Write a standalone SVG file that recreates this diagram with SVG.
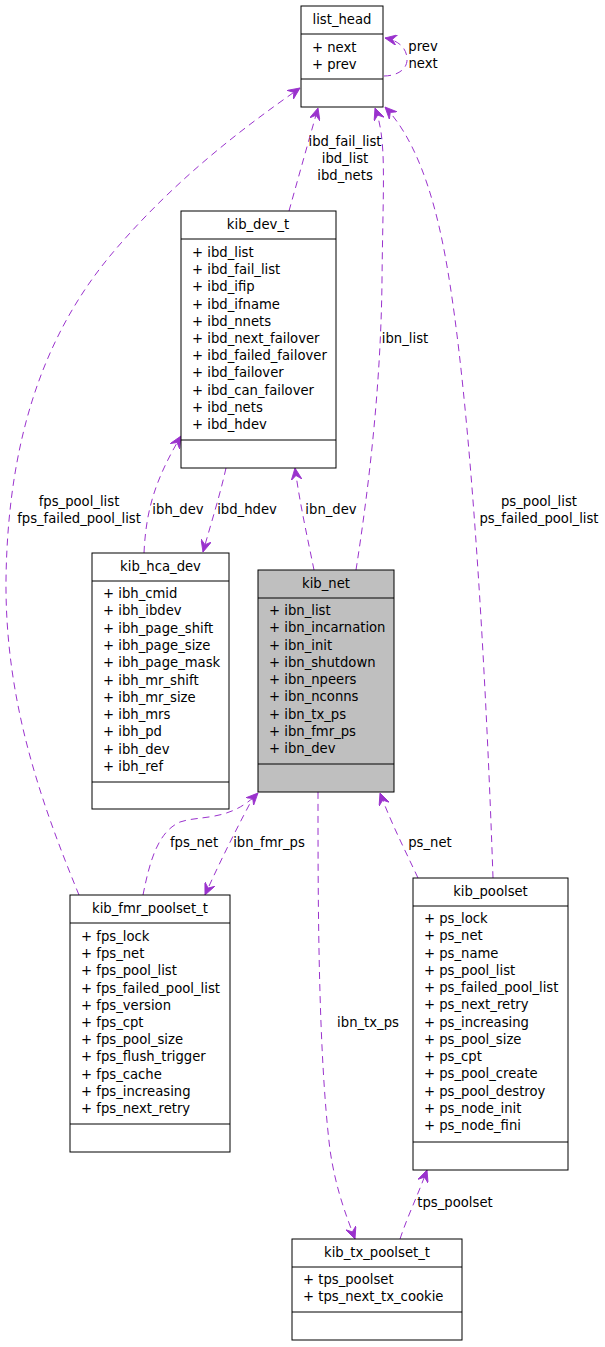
<svg xmlns="http://www.w3.org/2000/svg" width="605" height="1347" viewBox="0 0 605 1347">
<style>
text{font-family:"DejaVu Sans","Liberation Sans",sans-serif;font-size:13.2px;fill:#000}
.c{text-anchor:middle}
.box{fill:#fff;stroke:#000;stroke-width:1}
.sel{fill:#bfbfbf;stroke:#000;stroke-width:1}
.ln{stroke:#000;stroke-width:1}
.e{fill:none;stroke:#9a32cd;stroke-width:1;stroke-dasharray:7,5;marker-end:url(#ah)}
</style>
<defs>
<marker id="ah" viewBox="0 0 12 10" refX="11" refY="5" markerWidth="13" markerHeight="11" markerUnits="userSpaceOnUse" orient="auto">
<path d="M0,0 L11,5 L0,10 L4,5 Z" fill="#9a32cd" stroke="#9a32cd" stroke-width="0.8" stroke-linejoin="miter"/>
</marker>
</defs>
<rect width="605" height="1347" fill="#fff"/>

<g id="connectors">
<path class="e" d="M384,76 C396,76 408,70 407,58 C406,46 396,40 385,38"/>
<path class="e" d="M289,211 C296,186 306,150 318,108"/>
<path class="e" d="M356,570 C370,480 381,380 382,280 C383,180 387,140 375,108"/>
<path class="e" d="M493,878 C487,700 472,400 445,255 C432,185 412,135 385,107"/>
<path class="e" d="M79,895 C40,800 5,700 6,580 C8,420 55,320 115,250 C175,180 240,130 300,88"/>
<path class="e" d="M144,553 C146,510 155,480 181,436"/>
<path class="e" d="M226,468 C220,495 212,520 203,552"/>
<path class="e" d="M314,570 C308,540 300,505 295,468"/>
<path class="e" d="M143,895 C150,860 158,832 180,822 C200,815 230,822 258,793"/>
<path class="e" d="M255,794 C240,822 222,857 205,895"/>
<path class="e" d="M418,878 C405,850 392,825 380,793"/>
<path class="e" d="M318,792 C318,900 318,1050 330,1150 C336,1190 346,1215 355,1239"/>
<path class="e" d="M400,1239 C408,1215 418,1195 427,1170"/>
<text class="c" x="423" y="51">prev</text>
<text class="c" x="423" y="68">next</text>
<text class="c" x="345" y="146">ibd_fail_list</text>
<text class="c" x="345" y="163">ibd_list</text>
<text class="c" x="345" y="180">ibd_nets</text>
<text class="c" x="405" y="343">ibn_list</text>
<text class="c" x="539" y="506">ps_pool_list</text>
<text class="c" x="539" y="523">ps_failed_pool_list</text>
<text class="c" x="79" y="506">fps_pool_list</text>
<text class="c" x="79" y="523">fps_failed_pool_list</text>
<text class="c" x="178" y="514">ibh_dev</text>
<text class="c" x="247" y="514">ibd_hdev</text>
<text class="c" x="331" y="514">ibn_dev</text>
<text class="c" x="194" y="847">fps_net</text>
<text class="c" x="269" y="847">ibn_fmr_ps</text>
<text class="c" x="430" y="847">ps_net</text>
<text class="c" x="368" y="1027">ibn_tx_ps</text>
<text class="c" x="455" y="1207">tps_poolset</text>
</g>

<g id="list_head">
<rect class="box" x="301" y="6" width="82" height="101"/>
<line class="ln" x1="301" y1="34" x2="383" y2="34"/>
<line class="ln" x1="301" y1="79" x2="383" y2="79"/>
<text class="c" x="342" y="24">list_head</text>
<text x="312" y="52">+ next</text>
<text x="312" y="69">+ prev</text>
</g>

<g id="kib_dev_t">
<rect class="box" x="181" y="211" width="155" height="257"/>
<line class="ln" x1="181" y1="239" x2="336" y2="239"/>
<line class="ln" x1="181" y1="440" x2="336" y2="440"/>
<text class="c" x="258" y="229">kib_dev_t</text>
<text x="192" y="257">+ ibd_list</text>
<text x="192" y="274.2">+ ibd_fail_list</text>
<text x="192" y="291.4">+ ibd_ifip</text>
<text x="192" y="308.6">+ ibd_ifname</text>
<text x="192" y="325.8">+ ibd_nnets</text>
<text x="192" y="343">+ ibd_next_failover</text>
<text x="192" y="360.2">+ ibd_failed_failover</text>
<text x="192" y="377.4">+ ibd_failover</text>
<text x="192" y="394.6">+ ibd_can_failover</text>
<text x="192" y="411.8">+ ibd_nets</text>
<text x="192" y="429">+ ibd_hdev</text>
</g>

<g id="kib_hca_dev">
<rect class="box" x="92" y="553" width="137" height="256"/>
<line class="ln" x1="92" y1="581" x2="229" y2="581"/>
<line class="ln" x1="92" y1="782" x2="229" y2="782"/>
<text class="c" x="160.5" y="571">kib_hca_dev</text>
<text x="103" y="598">+ ibh_cmid</text>
<text x="103" y="615.3">+ ibh_ibdev</text>
<text x="103" y="632.6">+ ibh_page_shift</text>
<text x="103" y="649.9">+ ibh_page_size</text>
<text x="103" y="667.2">+ ibh_page_mask</text>
<text x="103" y="684.5">+ ibh_mr_shift</text>
<text x="103" y="701.8">+ ibh_mr_size</text>
<text x="103" y="719.1">+ ibh_mrs</text>
<text x="103" y="736.4">+ ibh_pd</text>
<text x="103" y="753.7">+ ibh_dev</text>
<text x="103" y="771">+ ibh_ref</text>
</g>

<g id="kib_net">
<rect class="sel" x="258" y="570" width="136" height="222"/>
<line class="ln" x1="258" y1="598" x2="394" y2="598"/>
<line class="ln" x1="258" y1="764" x2="394" y2="764"/>
<text class="c" x="326" y="588">kib_net</text>
<text x="269" y="615">+ ibn_list</text>
<text x="269" y="632.25">+ ibn_incarnation</text>
<text x="269" y="649.5">+ ibn_init</text>
<text x="269" y="666.75">+ ibn_shutdown</text>
<text x="269" y="684">+ ibn_npeers</text>
<text x="269" y="701.25">+ ibn_nconns</text>
<text x="269" y="718.5">+ ibn_tx_ps</text>
<text x="269" y="735.75">+ ibn_fmr_ps</text>
<text x="269" y="753">+ ibn_dev</text>
</g>

<g id="kib_fmr_poolset_t">
<rect class="box" x="70" y="895" width="160" height="257"/>
<line class="ln" x1="70" y1="923" x2="230" y2="923"/>
<line class="ln" x1="70" y1="1124" x2="230" y2="1124"/>
<text class="c" x="150" y="913">kib_fmr_poolset_t</text>
<text x="81" y="941">+ fps_lock</text>
<text x="81" y="958.2">+ fps_net</text>
<text x="81" y="975.4">+ fps_pool_list</text>
<text x="81" y="992.6">+ fps_failed_pool_list</text>
<text x="81" y="1009.8">+ fps_version</text>
<text x="81" y="1027">+ fps_cpt</text>
<text x="81" y="1044.2">+ fps_pool_size</text>
<text x="81" y="1061.4">+ fps_flush_trigger</text>
<text x="81" y="1078.6">+ fps_cache</text>
<text x="81" y="1095.8">+ fps_increasing</text>
<text x="81" y="1113">+ fps_next_retry</text>
</g>

<g id="kib_poolset">
<rect class="box" x="413" y="878" width="155" height="292"/>
<line class="ln" x1="413" y1="906" x2="568" y2="906"/>
<line class="ln" x1="413" y1="1142" x2="568" y2="1142"/>
<text class="c" x="490.5" y="896">kib_poolset</text>
<text x="424" y="923">+ ps_lock</text>
<text x="424" y="940.25">+ ps_net</text>
<text x="424" y="957.5">+ ps_name</text>
<text x="424" y="974.75">+ ps_pool_list</text>
<text x="424" y="992">+ ps_failed_pool_list</text>
<text x="424" y="1009.25">+ ps_next_retry</text>
<text x="424" y="1026.5">+ ps_increasing</text>
<text x="424" y="1043.75">+ ps_pool_size</text>
<text x="424" y="1061">+ ps_cpt</text>
<text x="424" y="1078.25">+ ps_pool_create</text>
<text x="424" y="1095.5">+ ps_pool_destroy</text>
<text x="424" y="1112.75">+ ps_node_init</text>
<text x="424" y="1130">+ ps_node_fini</text>
</g>

<g id="kib_tx_poolset_t">
<rect class="box" x="292" y="1239" width="170" height="101"/>
<line class="ln" x1="292" y1="1267" x2="462" y2="1267"/>
<line class="ln" x1="292" y1="1312" x2="462" y2="1312"/>
<text class="c" x="377" y="1257">kib_tx_poolset_t</text>
<text x="303" y="1284">+ tps_poolset</text>
<text x="303" y="1301">+ tps_next_tx_cookie</text>
</g>
</svg>
